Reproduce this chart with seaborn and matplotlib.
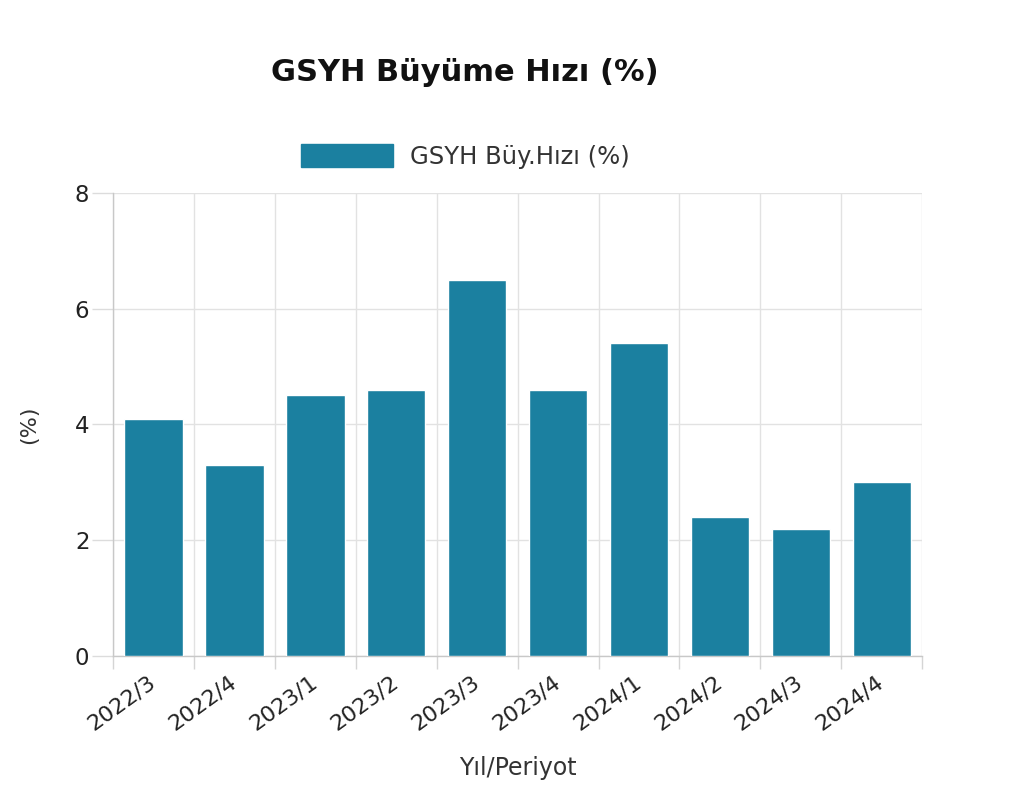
import matplotlib
matplotlib.use("Agg")
import matplotlib.pyplot as plt
import seaborn as sns
import pandas as pd
import numpy as np
from matplotlib.patches import Patch
import matplotlib.transforms as mtransforms

periods = ["2022/3", "2022/4", "2023/1", "2023/2", "2023/3", "2023/4",
           "2024/1", "2024/2", "2024/3", "2024/4"]
growth = [4.1, 3.3, 4.5, 4.6, 6.5, 4.6, 5.4, 2.4, 2.2, 3.0]
y_ticks = [0, 2, 4, 6, 8]
series_name = "GSYH Büy.Hızı (%)"
title = "GSYH Büyüme Hızı (%)"

df = pd.DataFrame({"Yıl/Periyot": periods, "value": growth})

sns.set_theme(style="white")
plt.rcParams["font.family"] = ["DejaVu Sans"]

color = "#1b80a0"
fig = plt.figure(figsize=(10.19, 8.10), dpi=100)
ax = fig.add_axes([0.111, 0.190, 0.794, 0.572])

sns.barplot(data=df, x="Yıl/Periyot", y="value", color=color, width=0.72,
            saturation=1, ax=ax, zorder=3)

ax.set_ylim(0, 8)
ax.set_yticks(y_ticks)
ax.set_xlim(-0.5, len(periods) - 0.5)

# grid lines
ax.set_xticks(np.arange(-0.5, len(periods), 1.0), minor=True)
ax.grid(True, axis="y", which="major", color="#e2e2e2", linewidth=1, zorder=0)
ax.grid(True, axis="x", which="minor", color="#e2e2e2", linewidth=1, zorder=0)
ax.tick_params(axis="x", which="major", bottom=True, length=0, labelsize=16,
               colors="#222222", pad=11)
ax.tick_params(axis="x", which="minor", bottom=True, length=9, color="#d5d5d5",
               width=1)
ax.tick_params(axis="y", which="major", left=True, length=15, color="#dcdcdc",
               width=1, labelsize=16.5, labelcolor="#222222", pad=2)
offset = mtransforms.ScaledTranslation(-6 / 100, 0, fig.dpi_scale_trans)
for lab in ax.get_xticklabels():
    lab.set_rotation(36)
    lab.set_ha("right")
    lab.set_rotation_mode("anchor")
    lab.set_transform(lab.get_transform() + offset)

for s in ["top", "right"]:
    ax.spines[s].set_visible(False)
for s in ["left", "bottom"]:
    ax.spines[s].set_color("#c8c8c8")
    ax.spines[s].set_linewidth(1)

ax.set_xlabel("Yıl/Periyot", fontsize=17, color="#333333", labelpad=16)
ax.set_ylabel("(%)", fontsize=16, color="#333333", labelpad=26)

fig.text(0.456, 0.911, title, ha="center", va="center", fontsize=22,
         fontweight="bold", color="#111111")

handle = Patch(facecolor=color, edgecolor=color)
fig.legend([handle], [series_name], loc="center", bbox_to_anchor=(0.457, 0.807),
           frameon=False, fontsize=17.5, handlelength=3.8, handleheight=1.05,
           handletextpad=0.7, labelcolor="#333333")

fig.savefig("out.png", dpi=100, facecolor="white")
